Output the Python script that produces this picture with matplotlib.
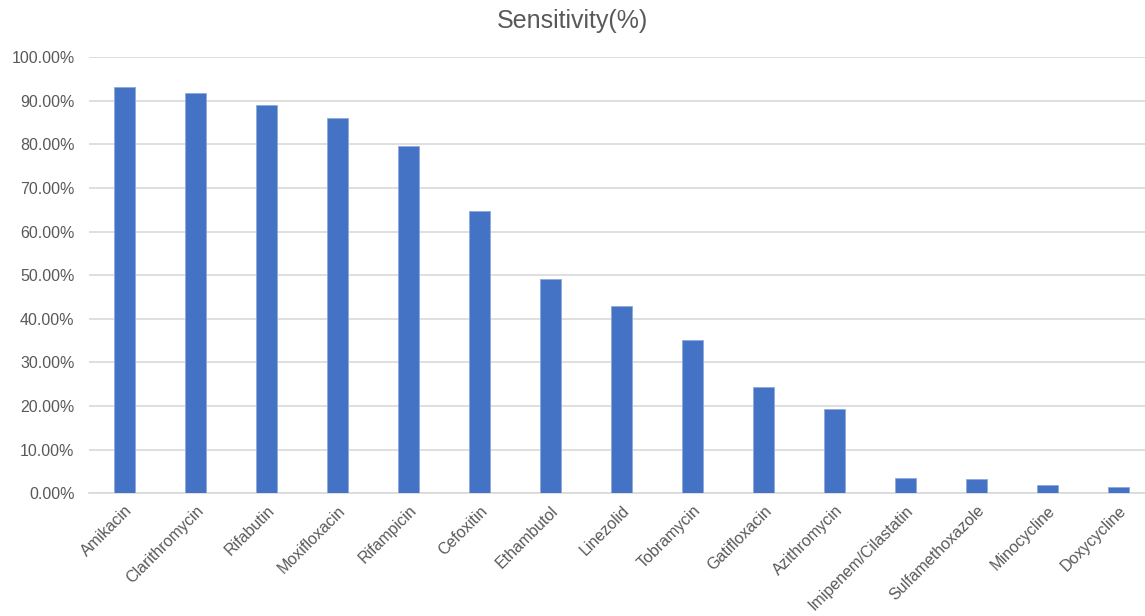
import matplotlib
matplotlib.use("Agg")
import matplotlib.pyplot as plt
from matplotlib.ticker import FuncFormatter, MultipleLocator

drugs = ["Amikacin", "Clarithromycin", "Rifabutin", "Moxifloxacin", "Rifampicin",
         "Cefoxitin", "Ethambutol", "Linezolid", "Tobramycin", "Gatifloxacin",
         "Azithromycin", "Imipenem/Cilastatin", "Sulfamethoxazole", "Minocycline",
         "Doxycycline"]
sensitivity = [0.931, 0.918, 0.890, 0.860, 0.796, 0.646, 0.491, 0.430, 0.351,
               0.244, 0.193, 0.035, 0.033, 0.019, 0.015]
title = "Sensitivity(%)"

plt.rcParams['font.family'] = ['Liberation Sans', 'DejaVu Sans']
grey = "#595959"

fig = plt.figure(figsize=(11.45, 6.16), dpi=100)
W, H = 1145, 616
left = 89.2 / W
right = (89.2 + 15 * 71) / W
bottom = (H - 493.3) / H
top = (H - 57) / H
ax = fig.add_axes([left, bottom, right - left, top - bottom])

x = list(range(len(drugs)))
ax.bar(x, sensitivity, width=0.3, color="#4472C4", edgecolor="#8EA9DB",
       linewidth=0.6, zorder=3)
ax.set_xlim(-0.5, len(drugs) - 0.5)
ax.set_ylim(0, 1.0)
ax.yaxis.set_major_locator(MultipleLocator(0.1))
ax.yaxis.set_major_formatter(FuncFormatter(lambda v, p: f"{v*100:.2f}%"))
ax.grid(axis="y", color="#d9d9d9", linewidth=1.2, zorder=0)
for s in ["top", "right", "left"]:
    ax.spines[s].set_visible(False)
ax.spines["bottom"].set_color("#d9d9d9")
ax.spines["bottom"].set_linewidth(1.2)
ax.tick_params(axis="both", length=0, labelcolor=grey)
ax.tick_params(axis="y", pad=10.5, labelsize=11.5)
ax.set_xticks(x)
ax.set_xticklabels(drugs, rotation=45, ha="right", rotation_mode="anchor")
ax.tick_params(axis="x", pad=7, labelsize=11.5)

fig.text(0.5, 1 - 21 / H, title, ha="center", va="center", fontsize=18, color=grey)

fig.savefig("out.png", dpi=100)
